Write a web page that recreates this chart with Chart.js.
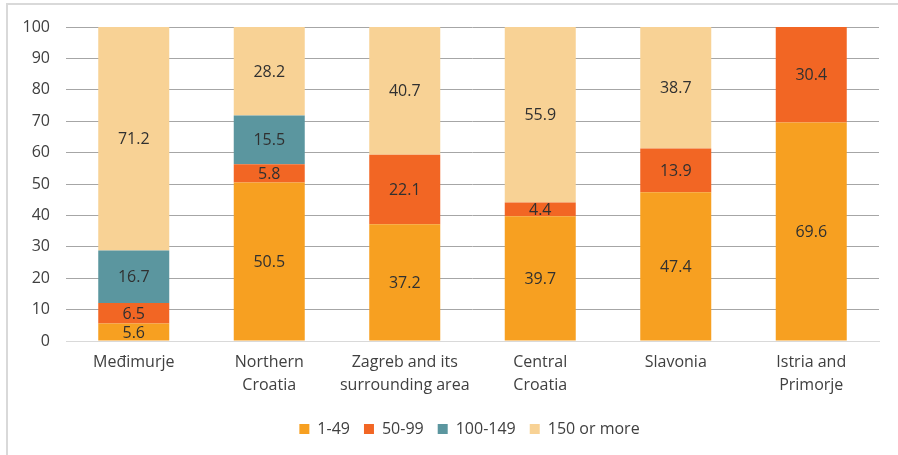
<!DOCTYPE html>
<html>
<head>
    <meta charset="utf-8">
    <title>Farm size by region</title>
    <script src="https://cdn.jsdelivr.net/npm/chart.js"></script>
    <style>
        body { margin: 0; background: #fff; }
    </style>
</head>
<body>
    <canvas id="myChart" width="898" height="455"></canvas>

    <script>
        // regions
        let regions = ['Međimurje', ['Northern', 'Croatia'], ['Zagreb and its', 'surrounding area'],
            ['Central', 'Croatia'], 'Slavonia', ['Istria and', 'Primorje']];

        // shares per size class (%)
        let size1to49 = [5.6, 50.5, 37.2, 39.7, 47.4, 69.6];
        let size50to99 = [6.5, 5.8, 22.1, 4.4, 13.9, 30.4];
        let size100to149 = [16.7, 15.5, null, null, null, null];
        let size150plus = [71.2, 28.2, 40.7, 55.9, 38.7, null];

        let yTicks = [0, 10, 20, 30, 40, 50, 60, 70, 80, 90, 100];

        let fontFamily = '"Open Sans", Lato, sans-serif';
        let textColor = '#404040';

        // writes the value in the middle of each segment
        let segmentLabels = {
            id: 'segmentLabels',
            afterDatasetsDraw(chart) {
                let ctx = chart.ctx;
                ctx.save();
                ctx.font = '16px ' + fontFamily;
                ctx.fillStyle = '#303030';
                ctx.textAlign = 'center';
                ctx.textBaseline = 'middle';
                chart.data.datasets.forEach((ds, i) => {
                    chart.getDatasetMeta(i).data.forEach((bar, j) => {
                        let v = ds.data[j];
                        if (v === null || v === undefined) return;
                        let mid = (bar.y + bar.base) / 2;
                        ctx.fillText(v.toFixed(1), bar.x, mid + 1);
                    });
                });
                ctx.restore();
            }
        };

        // thin frame at the top and left, legend nudged to the right like the original
        let frame = {
            id: 'frame',
            afterLayout(chart) {
                chart.legend.left += 30;
                chart.legend.right += 30;
            },
            beforeDraw(chart) {
                let ctx = chart.ctx;
                ctx.save();
                ctx.strokeStyle = '#d9d9d9';
                ctx.lineWidth = 2;
                ctx.beginPath();
                ctx.moveTo(7, 455);
                ctx.lineTo(7, 4);
                ctx.lineTo(898, 4);
                ctx.stroke();
                ctx.restore();
            }
        };

        let ctx = document.getElementById('myChart').getContext('2d');
        window.myChart = new Chart(ctx, {
            type: 'bar',
            data: {
                labels: regions,
                datasets: [
                    { label: '1-49', data: size1to49, backgroundColor: '#f7a021' },
                    { label: '50-99', data: size50to99, backgroundColor: '#f26624' },
                    { label: '100-149', data: size100to149, backgroundColor: '#5b969f' },
                    { label: '150 or more', data: size150plus, backgroundColor: '#f8d295' }
                ]
            },
            options: {
                responsive: false,
                animation: false,
                datasets: {
                    bar: { categoryPercentage: 1, barPercentage: 0.524 }
                },
                layout: {
                    padding: { left: 0, top: 27, right: 19, bottom: 8 }
                },
                scales: {
                    x: {
                        stacked: true,
                        grid: { display: false, drawTicks: false },
                        border: { color: '#d9d9d9', width: 1 },
                        ticks: {
                            color: textColor,
                            font: { family: fontFamily, size: 16, lineHeight: 1.45 },
                            padding: 10,
                            maxRotation: 0,
                            autoSkip: false
                        },
                        afterFit(scale) { scale.height = 66; }
                    },
                    y: {
                        stacked: true,
                        min: 0,
                        max: 100,
                        afterBuildTicks(scale) {
                            scale.ticks = yTicks.map(v => ({ value: v }));
                        },
                        grid: {
                            drawTicks: false,
                            color: c => c.tick && c.tick.value === 0 ? '#d9d9d9' : '#a6a6a6'
                        },
                        border: { display: false },
                        ticks: {
                            color: textColor,
                            font: { family: fontFamily, size: 16 },
                            padding: 16
                        },
                        afterFit(scale) { scale.width = 66; }
                    }
                },
                plugins: {
                    legend: {
                        position: 'bottom',
                        labels: {
                            color: textColor,
                            font: { family: fontFamily, size: 16 },
                            boxWidth: 10,
                            boxHeight: 10,
                            padding: 14
                        }
                    },
                    tooltip: { enabled: false }
                }
            },
            plugins: [segmentLabels, frame]
        });
    </script>
</body>
</html>
